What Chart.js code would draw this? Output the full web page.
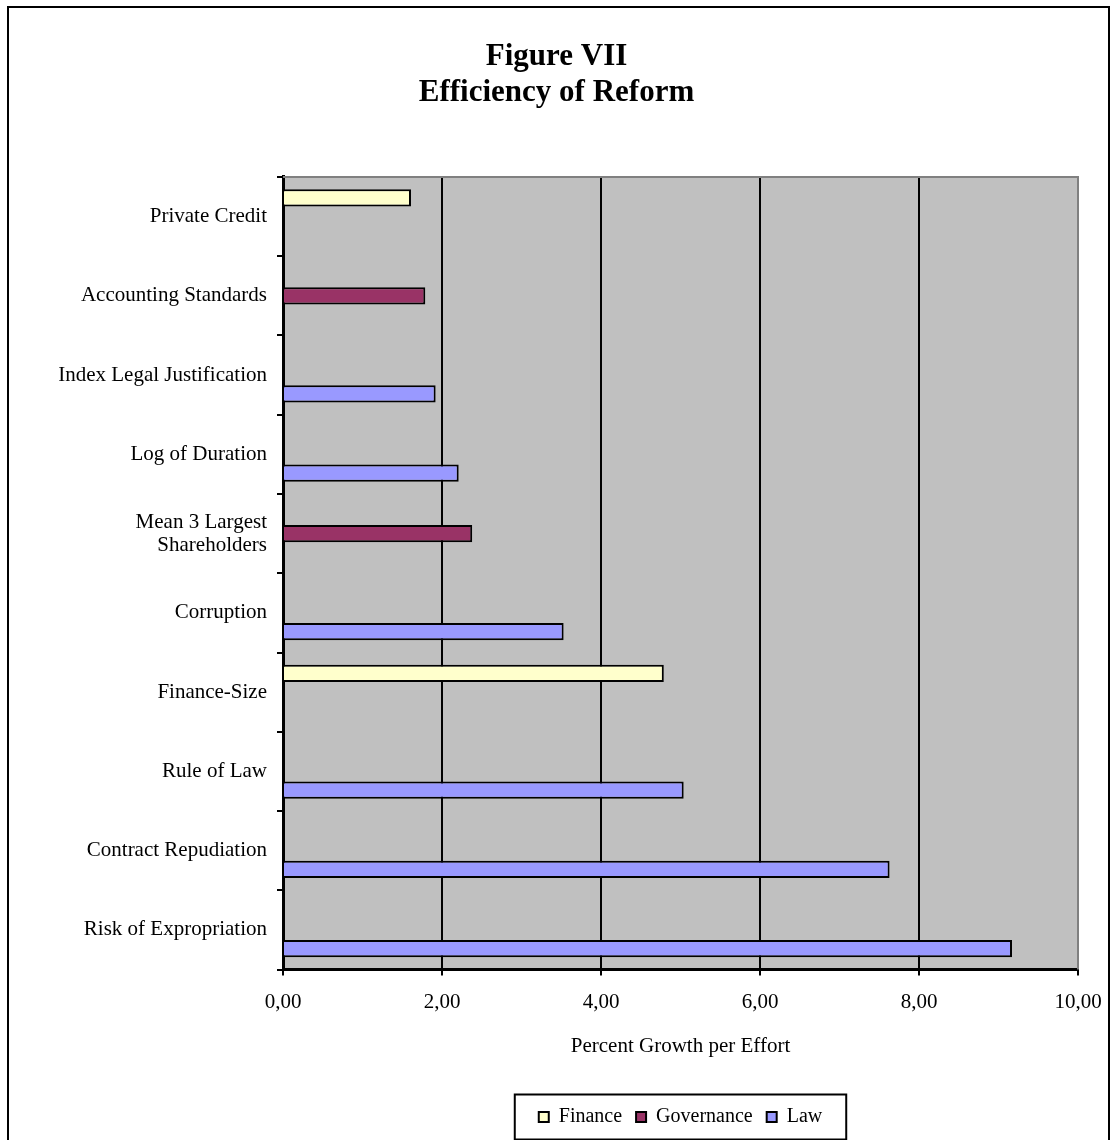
<!DOCTYPE html>
<html>
<head>
<meta charset="utf-8">
<script src="https://cdn.jsdelivr.net/npm/chart.js@4.4.1/dist/chart.umd.min.js"></script>
<style>
  html, body { margin: 0; padding: 0; background: #fff; }
  canvas { display: block; }
</style>
</head>
<body>
<canvas id="barChart" width="1111" height="1140"></canvas>
<script>
// categories top to bottom
const categories = ['Private Credit', 'Accounting Standards', 'Index Legal Justification', 'Log of Duration',
  ['Mean 3 Largest', 'Shareholders'], 'Corruption', 'Finance-Size', 'Rule of Law',
  'Contract Repudiation', 'Risk of Expropriation'];
const financeValues    = [1.61, null, null, null, null, null, 4.79, null, null, null];
const governanceValues = [null, 1.79, null, null, 2.38, null, null, null, null, null];
const lawValues        = [null, null, 1.92, 2.21, null, 3.53, null, 5.04, 7.63, 9.17];
const xTickLabels = ['0,00', '2,00', '4,00', '6,00', '8,00', '10,00'];

const serif = "'Liberation Serif', 'Times New Roman', serif";
Chart.defaults.font.family = serif;
Chart.defaults.color = '#000';

// grey plot area + frame + legend box
const decor = {
  id: 'decor',
  beforeDraw(chart) {
    const { ctx, chartArea: a } = chart;
    ctx.save();
    ctx.fillStyle = '#C0C0C0';
    ctx.fillRect(a.left, a.top, a.right - a.left, a.bottom - a.top);
    ctx.restore();
  },
  afterDraw(chart) {
    const { ctx, chartArea: a } = chart;
    ctx.save();
    // plot area top / right edge
    ctx.strokeStyle = '#808080';
    ctx.lineWidth = 2;
    ctx.beginPath();
    ctx.moveTo(a.left, a.top);
    ctx.lineTo(a.right, a.top);
    ctx.lineTo(a.right, a.bottom);
    ctx.stroke();
    // outer frame
    ctx.strokeStyle = '#000';
    ctx.lineWidth = 2;
    ctx.beginPath();
    ctx.moveTo(8, 1140);
    ctx.lineTo(8, 7);
    ctx.lineTo(1109, 7);
    ctx.lineTo(1109, 1140);
    ctx.stroke();
    // legend border
    const boxes = chart.legend.legendHitBoxes;
    if (boxes && boxes.length) {
      const l = boxes[0].left - 24;
      const last = boxes[boxes.length - 1];
      const r = last.left + last.width + 24;
      const cy = boxes[0].top + boxes[0].height / 2;
      ctx.lineWidth = 2;
      ctx.strokeRect(l, cy - 22.5, r - l, 45);
    }
    ctx.restore();
  }
};

const ctx = document.getElementById('barChart').getContext('2d');
const myChart = new Chart(ctx, {
  type: 'bar',
  plugins: [decor],
  data: {
    labels: categories,
    datasets: [
      { label: 'Finance', data: financeValues, backgroundColor: '#FFFFCC' },
      { label: 'Governance', data: governanceValues, backgroundColor: '#993366' },
      { label: 'Law', data: lawValues, backgroundColor: '#9999FF' }
    ]
  },
  options: {
    responsive: false,
    animation: false,
    indexAxis: 'y',
    layout: { padding: { left: 8, right: 6, top: 0, bottom: 3 } },
    datasets: {
      bar: {
        borderColor: '#000',
        borderWidth: 2,
        categoryPercentage: 0.71,
        barPercentage: 0.92
      }
    },
    scales: {
      x: {
        min: 0,
        max: 10,
        afterFit(scale) { scale.paddingRight = 33; },
        ticks: {
          stepSize: 2,
          padding: 14,
          font: { size: 21 },
          callback: (v, i) => xTickLabels[i]
        },
        grid: {
          color: c => c.index === 5 ? '#808080' : '#000',
          tickColor: '#000',
          lineWidth: 2,
          tickLength: 6
        },
        border: { color: '#000', width: 3 },
        title: {
          display: true,
          text: 'Percent Growth per Effort',
          font: { size: 21 },
          padding: { top: 5, bottom: 34 }
        }
      },
      y: {
        afterFit(scale) { scale.width = 275; },
        ticks: { padding: 10, font: { size: 21, lineHeight: 1.1 } },
        grid: {
          drawOnChartArea: false,
          tickColor: '#000',
          lineWidth: 2,
          tickLength: 6
        },
        border: { color: '#000', width: 3 }
      }
    },
    plugins: {
      title: {
        display: true,
        text: ['Figure VII', 'Efficiency of Reform'],
        font: { size: 31, weight: 'bold', lineHeight: 1.16 },
        color: '#000',
        padding: { top: 39, bottom: 66 }
      },
      legend: {
        position: 'bottom',
        fullSize: false,
        labels: {
          boxWidth: 10,
          boxHeight: 10,
          padding: 14,
          font: { size: 20 },
          color: '#000',
          generateLabels(chart) {
            return chart.data.datasets.map((d, i) => ({
              text: d.label,
              fillStyle: d.backgroundColor,
              strokeStyle: '#000',
              lineWidth: 2,
              datasetIndex: i
            }));
          }
        }
      },
      tooltip: { enabled: false }
    }
  }
});
</script>
</body>
</html>
